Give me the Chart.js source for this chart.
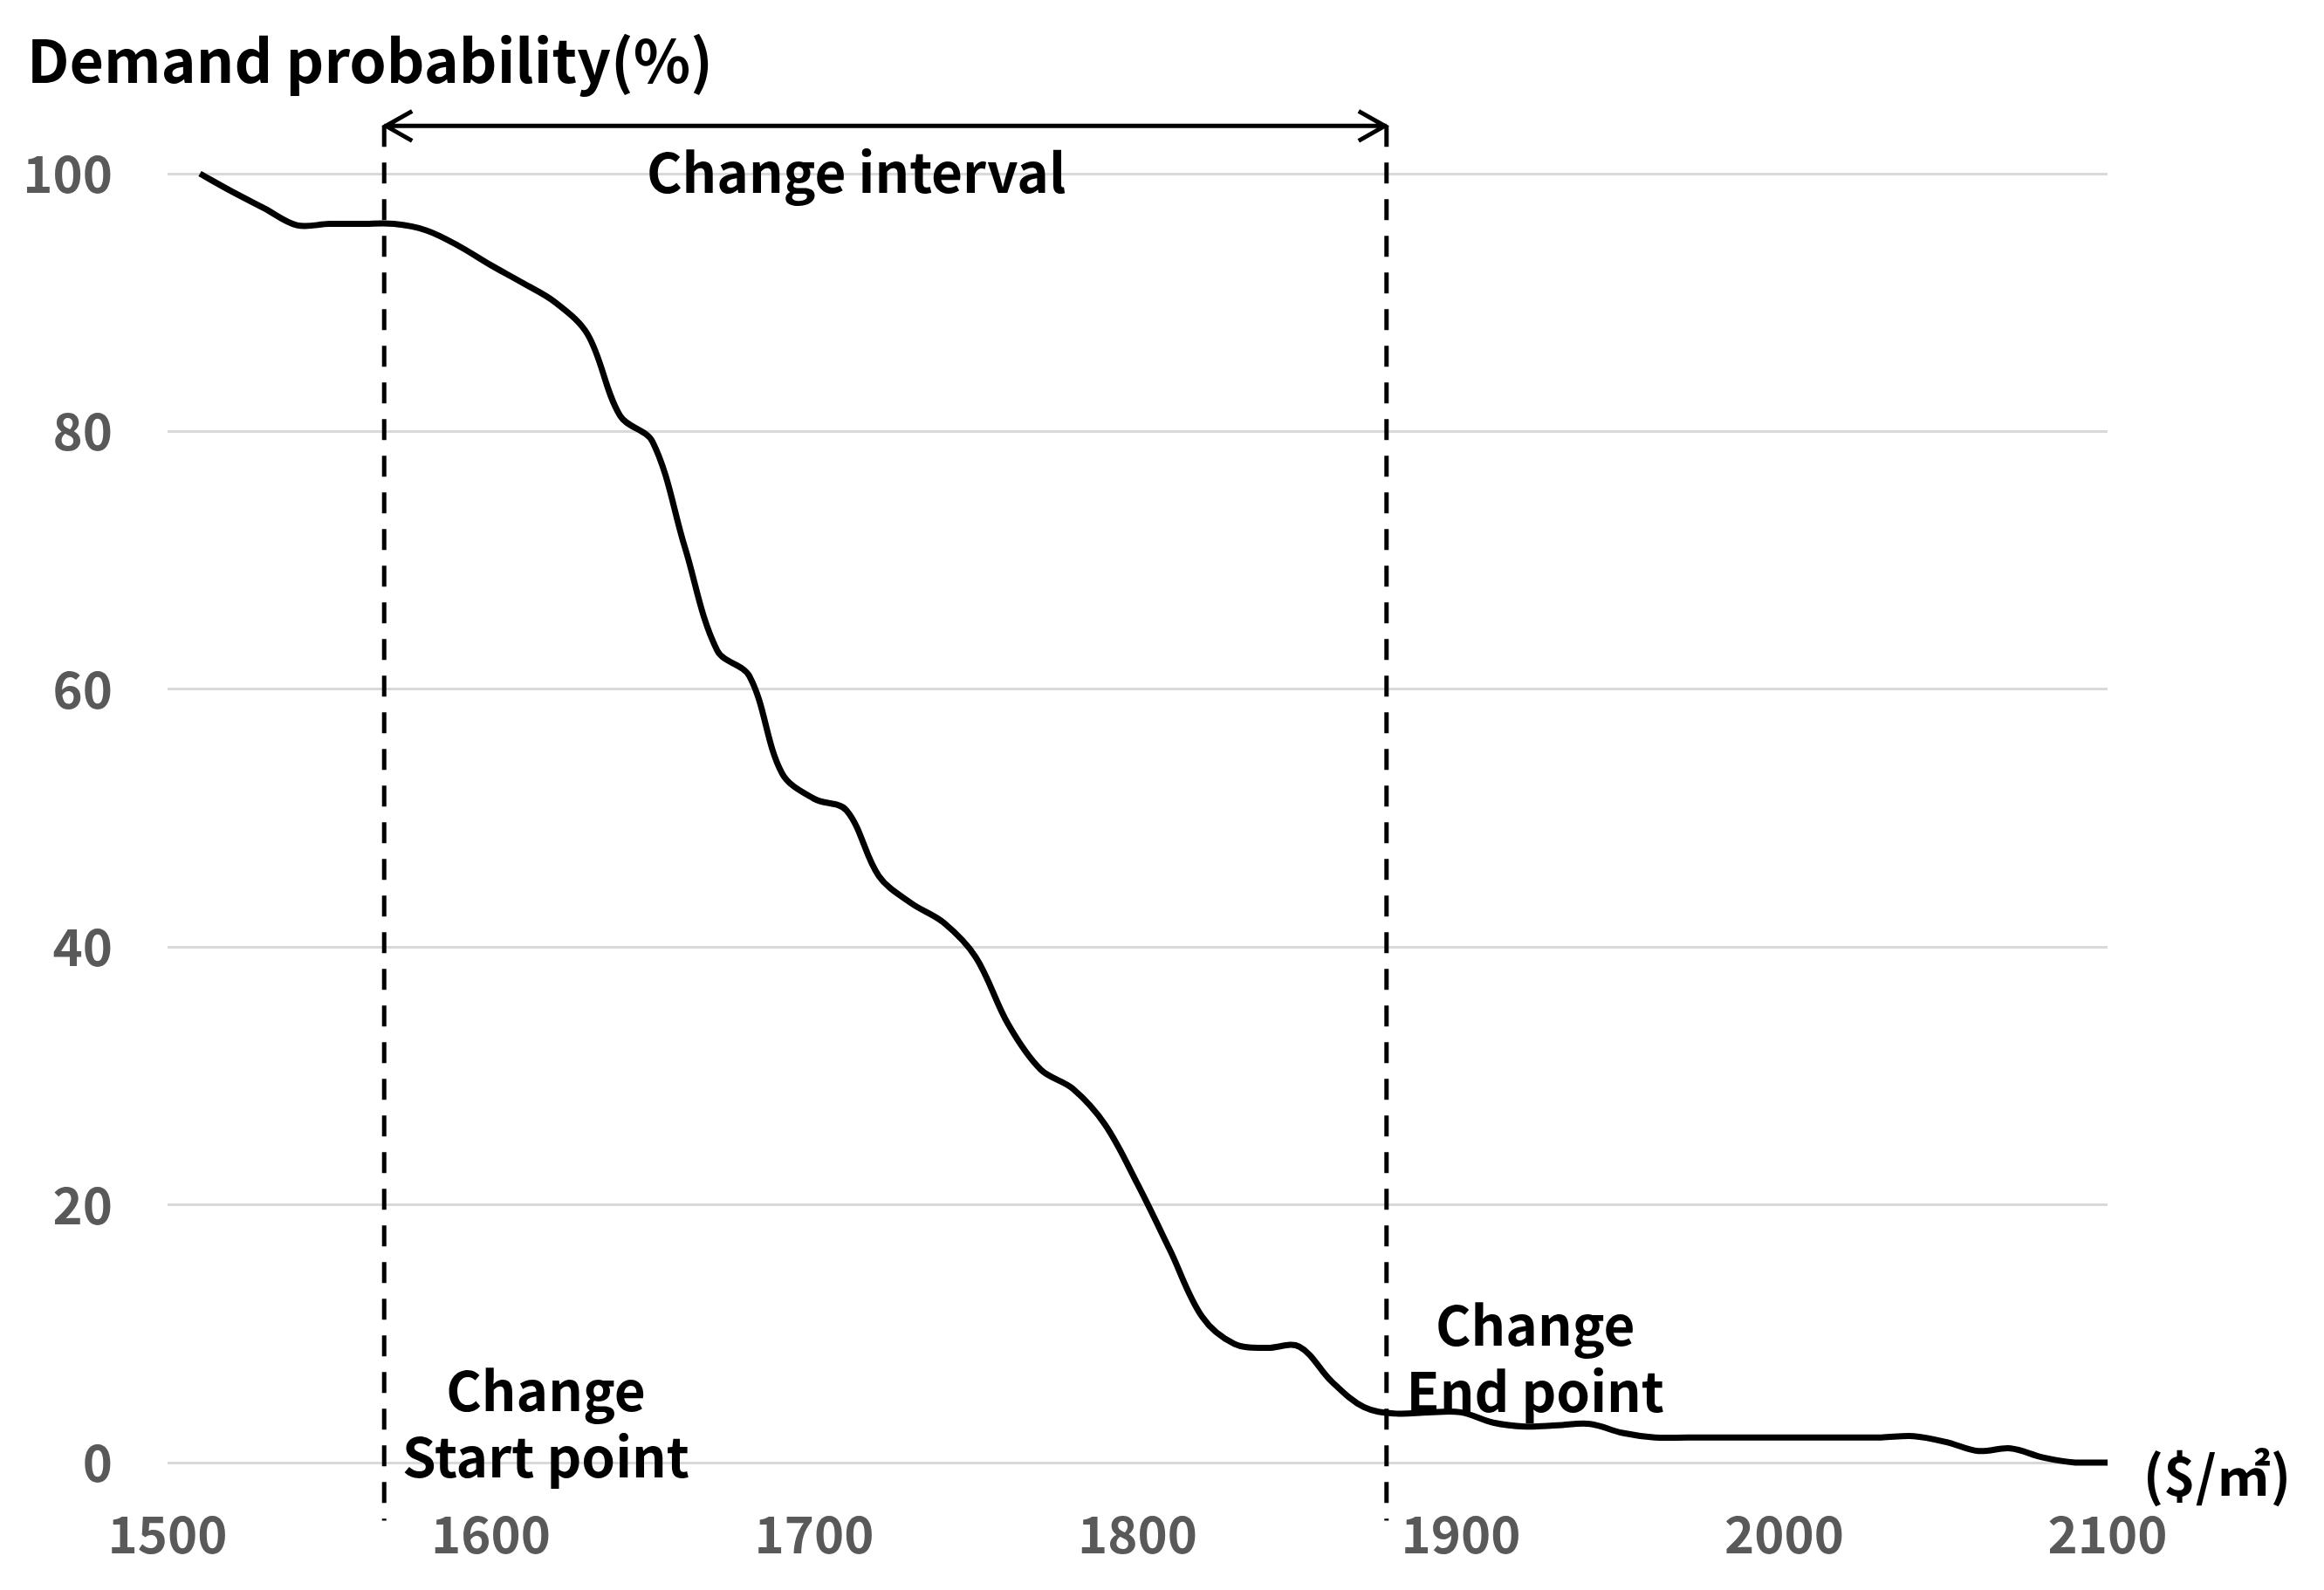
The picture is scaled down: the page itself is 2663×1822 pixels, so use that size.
<!DOCTYPE html>
<html>
<head>
<meta charset="utf-8">
<script src="https://cdn.jsdelivr.net/npm/chart.js@4/dist/chart.umd.min.js"></script>
<style>
  body { margin: 0; background: #fff; }
</style>
</head>
<body>
<canvas id="demandChart" width="2663" height="1822"></canvas>
<script>
// price per m2 ($) and demand probability (%)
const prices = [1510, 1520, 1530, 1540, 1550, 1560, 1570, 1580, 1590, 1600,
                1610, 1620, 1630, 1640, 1650, 1660, 1670, 1680, 1690, 1700,
                1710, 1720, 1730, 1740, 1750, 1760, 1770, 1780, 1790, 1800,
                1810, 1820, 1830, 1840, 1850, 1860, 1870, 1880, 1890, 1900,
                1910, 1920, 1930, 1940, 1950, 1960, 1970, 1980, 1990, 2000,
                2010, 2020, 2030, 2040, 2050, 2060, 2070, 2080, 2090, 2100];
const demand = [100, 98.6, 97.3, 96.0, 96.1, 96.1, 96.1, 95.6, 94.4, 92.9,
                91.5, 90.0, 87.5, 81.2, 79.2, 71.0, 63.0, 61.0, 53.5, 51.5,
                50.6, 45.5, 43.4, 41.9, 39.2, 34.0, 30.5, 29.0, 26.2, 21.6,
                16.5, 11.3, 9.2, 8.9, 9.0, 6.3, 4.3, 3.8, 3.9, 3.9,
                3.1, 2.8, 2.9, 3.0, 2.3, 1.95, 1.95, 1.95, 1.95, 1.95,
                1.95, 1.95, 1.95, 2.05, 1.6, 0.9, 1.1, 0.4, 0.0, 0.0];

const xTicks = [1500, 1600, 1700, 1800, 1900, 2000, 2100];
const yTicks = [0, 20, 40, 60, 80, 100];

// change interval bounds ($/m2)
const changeStart = 1567;
const changeEnd = 1877;

const yTitle = 'Demand probability(%)';
const xUnit = '($/㎡)';

// free text placed in data units (x, baseline y)
const notes = [
  { text: 'Change interval', x: 1713, y: 98.5, align: 'center' },
  { text: 'Change', x: 1617, y: 4.0, align: 'center' },
  { text: 'Start point', x: 1617, y: -1.15, align: 'center' },
  { text: 'Change', x: 1923, y: 9.1, align: 'center' },
  { text: 'End point', x: 1923, y: 3.9, align: 'center' },
  { text: xUnit, x: 2111, y: -2.6, align: 'left' }
];

const FONT = "'Noto Sans CJK KR', 'Noto Sans', sans-serif";

const pts = prices.map((p, i) => ({ x: p, y: demand[i] }));

const annotate = {
  id: 'annotate',
  afterDatasetsDraw(chart) {
    const ctx = chart.ctx;
    const xs = chart.scales.x, ys = chart.scales.y;
    const top = ys.getPixelForValue(103.7);
    const bottom = ys.getPixelForValue(-4.5);
    const a = xs.getPixelForValue(changeStart);
    const b = xs.getPixelForValue(changeEnd);

    ctx.save();
    ctx.strokeStyle = '#000';
    ctx.lineWidth = 5;
    ctx.setLineDash([24, 18]);
    [a, b].forEach(px => {
      ctx.beginPath();
      ctx.moveTo(px, top);
      ctx.lineTo(px, bottom);
      ctx.stroke();
    });

    // double arrow
    ctx.setLineDash([]);
    ctx.beginPath();
    ctx.moveTo(a, top); ctx.lineTo(b, top);
    ctx.moveTo(a + 32, top - 17); ctx.lineTo(a + 2, top); ctx.lineTo(a + 32, top + 17);
    ctx.moveTo(b - 32, top - 17); ctx.lineTo(b - 2, top); ctx.lineTo(b - 32, top + 17);
    ctx.stroke();

    ctx.fillStyle = '#000';
    ctx.font = 'bold 62px ' + FONT;
    ctx.textBaseline = 'alphabetic';
    notes.forEach(n => {
      ctx.textAlign = n.align;
      ctx.fillText(n.text, xs.getPixelForValue(n.x), ys.getPixelForValue(n.y));
    });

    // y axis title, top left
    ctx.font = 'bold 68px ' + FONT;
    ctx.textAlign = 'left';
    ctx.fillText(yTitle, 31, 95);
    ctx.restore();
  }
};

const config_demand = {
  type: 'line',
  data: {
    datasets: [{
      label: 'Demand probability',
      data: pts,
      borderColor: '#000',
      borderWidth: 7,
      pointRadius: 0,
      tension: 0.35,
      fill: false,
      clip: false
    }]
  },
  options: {
    responsive: false,
    animation: false,
    layout: { padding: { top: 199, right: 248, bottom: 0, left: 0 } },
    plugins: {
      legend: { display: false },
      tooltip: { enabled: false }
    },
    scales: {
      x: {
        type: 'linear',
        min: 1500,
        max: 2100,
        afterBuildTicks: s => { s.ticks = xTicks.map(v => ({ value: v })); },
        afterFit: s => { s.height = 146; },
        grid: { display: false },
        border: { display: false },
        ticks: {
          color: '#595959',
          padding: 39,
          maxRotation: 0,
          callback: v => String(v),
          font: { family: FONT, size: 58, weight: 'bold' }
        }
      },
      y: {
        min: 0,
        max: 100,
        afterBuildTicks: s => { s.ticks = yTicks.map(v => ({ value: v })); },
        afterFit: s => { s.width = 192; },
        grid: { color: '#d9d9d9', lineWidth: 3, drawTicks: false },
        border: { display: false },
        ticks: {
          color: '#595959',
          padding: 63,
          font: { family: FONT, size: 58, weight: 'bold' }
        }
      }
    }
  },
  plugins: [annotate]
};

const demandChart = new Chart(
  document.getElementById('demandChart'),
  config_demand
);
</script>
</body>
</html>
